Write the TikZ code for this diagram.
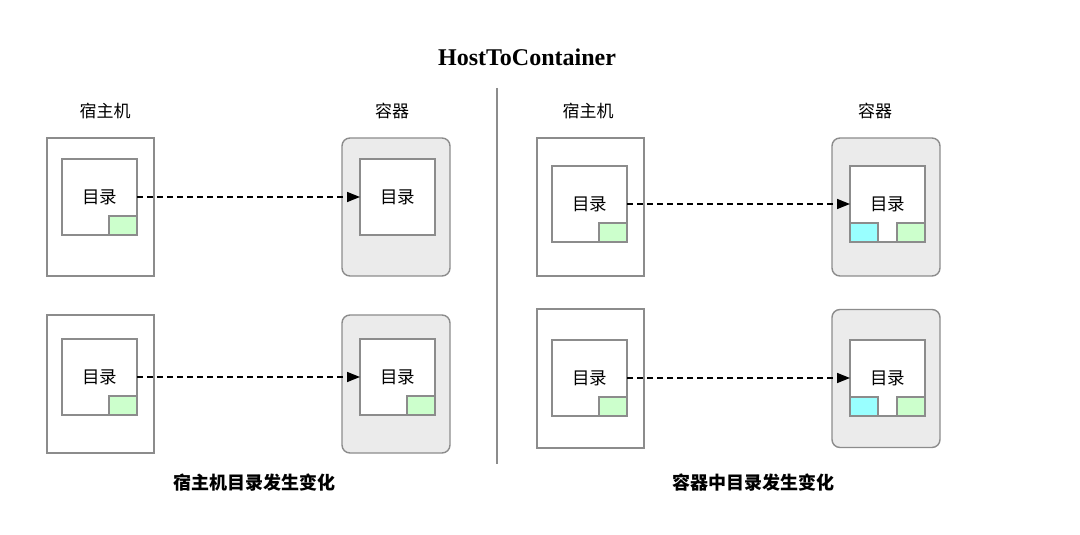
\documentclass[tikz,border=0pt]{standalone}
\usepackage{fontspec}
\setmainfont{Liberation Serif}
\newfontfamily\cjk{Noto Sans CJK SC}
\usetikzlibrary{arrows.meta}
\definecolor{edgegray}{HTML}{8C8C8C}
\definecolor{contfill}{HTML}{EBEBEB}
\definecolor{markgreen}{HTML}{CCFFCC}
\definecolor{markcyan}{HTML}{99FFFF}
\tikzset{
  box/.style={draw=edgegray, line width=1.4bp, inner sep=0pt, outer sep=0pt, anchor=center},
  hostbox/.style={box, fill=white, minimum width=107bp, minimum height=138bp},
  contbox/.style={box, fill=contfill, rounded corners=8bp, minimum width=108bp, minimum height=138bp},
  dirbox/.style={box, fill=white, minimum width=75bp, minimum height=76bp, font=\cjk\fontsize{17.5bp}{20bp}\selectfont},
  greenmark/.style={box, fill=markgreen, minimum width=28bp, minimum height=19bp},
  cyanmark/.style={box, fill=markcyan, minimum width=28bp, minimum height=19bp},
  headlabel/.style={font=\cjk\fontsize{17bp}{20bp}\selectfont, inner sep=0pt},
  footlabel/.style={font=\cjk\bfseries\fontsize{18bp}{21bp}\selectfont, inner sep=0pt},
  flow/.style={draw=black, line width=1.5bp, dash pattern=on 6bp off 4bp, -{Triangle[length=13bp,width=10bp]}, shorten >=0pt},
}
\begin{document}
\begin{tikzpicture}[x=1bp,y=-1bp]
\useasboundingbox[fill=white] (0,0) rectangle (1080,535);

% title
\node[font=\bfseries\fontsize{24bp}{28bp}\selectfont, inner sep=0pt] (title) at (527,57) {HostToContainer};

% divider
\coordinate (divtop) at (497,88);
\coordinate (divbot) at (497,464);
\draw[edgegray, line width=1.4bp] (divtop) -- (divbot);

% column headers
\node[headlabel] (hl1) at (105,111) {宿主机};
\node[headlabel] (cl1) at (392,111) {容器};
\node[headlabel] (hl2) at (588,111) {宿主机};
\node[headlabel] (cl2) at (875,111) {容器};

% ===== left top =====
\node[hostbox] (host1) at (100.5,207) {};
\node[dirbox] (dir1) at (99.5,197) {目录};
\node[greenmark] (g1) at (123,225.5) {};
\node[contbox] (cont1) at (396,207) {};
\node[dirbox] (cdir1) at (397.5,197) {目录};
\draw[flow] (dir1.east) -- (cdir1.west);

% ===== left bottom =====
\node[hostbox] (host2) at (100.5,384) {};
\node[dirbox] (dir2) at (99.5,377) {目录};
\node[greenmark] (g2) at (123,405.5) {};
\node[contbox] (cont2) at (396,384) {};
\node[dirbox] (cdir2) at (397.5,377) {目录};
\node[greenmark] (cg2) at (421,405.5) {};
\draw[flow] (dir2.east) -- (cdir2.west);

% ===== right top =====
\node[hostbox] (host3) at (590.5,207) {};
\node[dirbox] (dir3) at (589.5,204) {目录};
\node[greenmark] (g3) at (613,232.5) {};
\node[contbox] (cont3) at (886,207) {};
\node[dirbox] (cdir3) at (887.5,204) {目录};
\node[cyanmark] (cc3) at (864,232.5) {};
\node[greenmark] (cg3) at (911,232.5) {};
\draw[flow] (dir3.east) -- (cdir3.west);

% ===== right bottom =====
\node[hostbox, minimum height=139bp] (host4) at (590.5,378.5) {};
\node[dirbox] (dir4) at (589.5,378) {目录};
\node[greenmark] (g4) at (613,406.5) {};
\node[contbox] (cont4) at (886,378.5) {};
\node[dirbox] (cdir4) at (887.5,378) {目录};
\node[cyanmark] (cc4) at (864,406.5) {};
\node[greenmark] (cg4) at (911,406.5) {};
\draw[flow] (dir4.east) -- (cdir4.west);

% footers
\node[footlabel] (f1) at (254,483) {宿主机目录发生变化};
\node[footlabel] (f2) at (753,483) {容器中目录发生变化};
\end{tikzpicture}
\end{document}
